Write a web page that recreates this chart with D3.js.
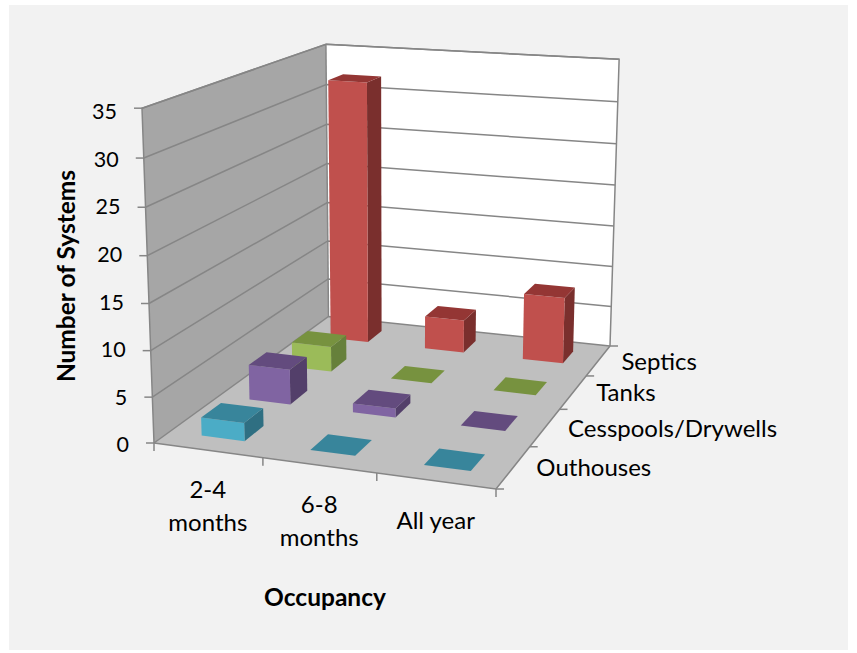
<!DOCTYPE html>
<html><head><meta charset="utf-8">
<style>html,body{margin:0;padding:0;background:#fff}svg{display:block}text{font-family:Lato,"Open Sans",sans-serif;fill:#000}</style>
<script src="https://cdn.jsdelivr.net/npm/d3@7/dist/d3.min.js"></script>
</head><body><div id="chart"></div>
<script>
const months = ["2-4 months","6-8 months","All year"];
const monthLines = [["2-4","months"],["6-8","months"],["All year"]];
const seriesNames = ["Outhouses","Cesspools/Drywells","Tanks","Septics"];
const outhouses = [2,0,0];
const cesspools = [4,1,0];
const tanks = [3,0,0];
const septics = [32,4,8];
const valueTicks = [0,5,10,15,20,25,30,35];
const seriesValues = [outhouses,cesspools,tanks,septics];
const faceColors = [
 {front:"#4bacc6",top:"#38859b",side:"#2f6f82"},
 {front:"#8064a2",top:"#634b7e",side:"#533f6a"},
 {front:"#9bbb59",top:"#77923f",side:"#66803b"},
 {front:"#c0504d",top:"#943634",side:"#7a2f2d"}];

const W=857,H=653;
const svg=d3.select("#chart").append("svg").attr("width",W).attr("height",H);
svg.append("rect").attr("x",9).attr("y",5).attr("width",839).attr("height",645).attr("fill","#f2f2f2");

// perspective frame: the corners of the plot box on screen
const A=[154,443],B=[496,489],C=[610,346],D=[328.5,316.5];
const Atop=[142,109],Dtop=[326,44],Ctop=[619,59];

// unit square -> quad homography
const dx1=B[0]-C[0],dx2=D[0]-C[0],sx=A[0]-B[0]+C[0]-D[0];
const dy1=B[1]-C[1],dy2=D[1]-C[1],sy=A[1]-B[1]+C[1]-D[1];
const den=dx1*dy2-dx2*dy1;
const g=(sx*dy2-dx2*sy)/den,h=(dx1*sy-sx*dy1)/den;
const a=B[0]-A[0]+g*B[0],b=D[0]-A[0]+h*D[0],d=A[0];
const e=B[1]-A[1]+g*B[1],f=D[1]-A[1]+h*D[1],k=A[1];
// height column by least squares on the three known top corners
const tops=[[0,0,Atop],[0,1,Dtop],[1,1,Ctop]];
let M=[[0,0,0],[0,0,0],[0,0,0]],R=[0,0,0];
function addEq(r,y){for(let i=0;i<3;i++){R[i]+=r[i]*y;for(let j=0;j<3;j++)M[i][j]+=r[i]*r[j];}}
tops.forEach(([u,v,p])=>{const w0=g*u+h*v+1;
 addEq([1,0,-p[0]],p[0]*w0-(a*u+b*v+d));
 addEq([0,1,-p[1]],p[1]*w0-(e*u+f*v+k));});
function solve3(m,r){m=m.map((row,i)=>[...row,r[i]]);
 for(let i=0;i<3;i++){let p=i;for(let j=i+1;j<3;j++)if(Math.abs(m[j][i])>Math.abs(m[p][i]))p=j;[m[i],m[p]]=[m[p],m[i]];
  for(let j=0;j<3;j++)if(j!==i){const q=m[j][i]/m[i][i];for(let c=i;c<4;c++)m[j][c]-=q*m[i][c];}}
 return m.map((row,i)=>row[3]/row[i]);}
const [cx,cy,ci]=solve3(M,R);
function proj(u,v,w){const q=g*u+h*v+ci*w+1;return [(a*u+b*v+cx*w+d)/q,(e*u+f*v+cy*w+k)/q];}

// data scales into the unit box
const xBand=d3.scaleBand().domain(months).range([0,1]).paddingInner(0.6).paddingOuter(0.3);
const zBand=d3.scaleBand().domain(seriesNames).range([0,1]).paddingInner(0.6).paddingOuter(0.3);
const yScale=d3.scaleLinear().domain([0,35]).range([0,1]);
const labelY=d3.scaleLinear().domain([0,35]).range([444.5,111.5]);
const xCell=d3.scaleBand().domain(months).range([0,1]);
const zCell=d3.scaleBand().domain(seriesNames).range([0,1]);

const poly=d3.line();
const P=pts=>poly(pts.map(p=>proj(p[0],p[1],p[2])))+"Z";
const gridCol="#868686";
const plot=svg.append("g");
// walls and floor
plot.append("path").attr("d",P([[0,0,0],[0,1,0],[0,1,1],[0,0,1]])).attr("fill","#a6a6a6");
plot.append("path").attr("d",P([[0,1,0],[1,1,0],[1,1,1],[0,1,1]])).attr("fill","#ffffff");
plot.append("path").attr("d",P([[0,0,0],[1,0,0],[1,1,0],[0,1,0]])).attr("fill","#bfbfbf");
// gridlines
const lineG=plot.append("g").attr("fill","none").attr("stroke",gridCol).attr("stroke-width",1.5);
valueTicks.forEach(t=>{const w=yScale(t);
 lineG.append("path").attr("d",poly([proj(0,0,w),proj(0,1,w),proj(1,1,w)]));
 const q=proj(0,0,w);
 lineG.append("path").attr("d",poly([q,[q[0]-8,q[1]]]));
 svg.append("text").attr("x",q[0]-25).attr("y",labelY(t)).attr("dy","0.36em").attr("text-anchor","end").attr("font-size",21.5).text(t);
});
lineG.append("path").attr("d",poly([proj(0,0,0),proj(0,0,1),proj(0,1,1)]));
lineG.append("path").attr("d",poly([proj(1,1,0),proj(1,1,1),proj(0,1,1)]));
lineG.append("path").attr("d",poly([proj(0,1,0),proj(0,1,1)]));
// floor axes + ticks
lineG.append("path").attr("d",poly([proj(0,0,0),proj(1,0,0),proj(1,1,0)]));
[0,1,2,3].forEach(i=>{const u=i/3,q=proj(u,0,0);lineG.append("path").attr("d",poly([q,[q[0],q[1]+8]]));});
[0,1,2,3,4].forEach(i=>{const v=i/4,q=proj(1,v,0);lineG.append("path").attr("d",poly([q,[q[0]+8,q[1]]]));});

// bars, back row first
const bars=plot.append("g");
for(let s=seriesNames.length-1;s>=0;s--){
 const z0=zBand(seriesNames[s]),z1=z0+zBand.bandwidth(),col=faceColors[s];
 months.forEach((m,i)=>{
  const x0=xBand(m),x1=x0+xBand.bandwidth(),w=yScale(seriesValues[s][i]);
  if(w>0){
   bars.append("path").attr("d",P([[x1,z0,0],[x1,z1,0],[x1,z1,w],[x1,z0,w]])).attr("fill",col.side);
   bars.append("path").attr("d",P([[x0,z0,0],[x1,z0,0],[x1,z0,w],[x0,z0,w]])).attr("fill",col.front);
  }
  bars.append("path").attr("d",P([[x0,z0,w],[x1,z0,w],[x1,z1,w],[x0,z1,w]])).attr("fill",col.top);
 });
}
// category labels
months.forEach((m,i)=>{const q=proj(xCell(m)+xCell.bandwidth()/2,0,0);
 const t=svg.append("text").attr("text-anchor","middle").attr("font-size",24);
 monthLines[i].forEach((ln,j)=>t.append("tspan").attr("x",q[0]).attr("y",q[1]+48+j*33).text(ln));
});
seriesNames.forEach(n=>{const q=proj(1,zCell(n)+zCell.bandwidth()/2,0);
 svg.append("text").attr("x",q[0]+23).attr("y",q[1]+1).attr("dy","0.34em").attr("font-size",24).text(n);
});
svg.append("text").attr("transform","translate(75,276) rotate(-90)").attr("text-anchor","middle").attr("font-size",24.5).attr("font-weight",700).text("Number of Systems");
svg.append("text").attr("x",325).attr("y",606).attr("text-anchor","middle").attr("font-size",24.5).attr("font-weight",700).text("Occupancy");
</script></body></html>
